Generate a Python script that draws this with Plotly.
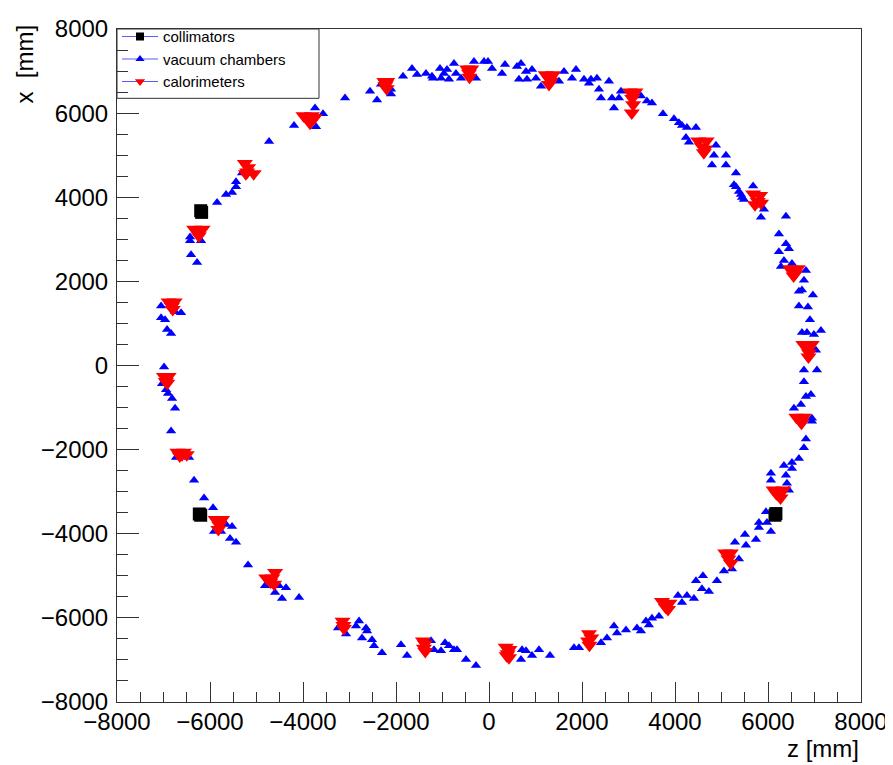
import plotly.graph_objects as go

# ---- data (z, x in mm) ----
vac_z = [-4193, -3741, -3720, -3569, -3096, -2559, -2408, -2322, -2107, -2107, -1849, -1656, -1548, -1355, -1226, -1204,
         -1054, -1032, -968, -903, -860, -753, -710, -602, -323, -280, -108, -22, 65, 280, 344, 602, 688, 645, 796, 817,
         925, 1011, 1118, 1505, 1613, 1785, 1871, 2043, 2193, 2150, 2322, 2365, 2408, 2580, 2645, 2688, 2838, 2795,
         3268, 3397, 3505, 3741, 3978, 4085, 4150, 4257, 4451, 4236, 4300, 4881, 4838, 4795, 5096, 5096, 5311, 5268,
         5311, 5375, 5418, 5440, 5483, 5680, 5848, 5913, 6386, 6235, 6386, 6450, 6235, 6343, 6278, 6515, 6816, 6773,
         6665, 6730, 6966, 6665, 6859, 6902, 6730, 6837, 6988, 7138, 7031, 6773, 7052, 6773, 6816, 6923, 6558, 6708,
         6945, 6945, 6816, 6773, 6665, 6515, 6343, 6515, 6063, 6386, 6063, 6407, 6450, 5956, 5805, 5805, 5977, 6063,
         5504, 5741, 5289, 5526, 5375, 5053, 5225, 4902, 4601, 4451, 4580, 4730, 4257, 4408, 4064, 4150, 3655, 3505,
         3376, 3440, 3182, 3268, 2946, 2688, 2752, 2537, 2408, 1935, 1828, 1312, 1075, 925, 796, 688, 710, -280, -495,
         -688, -753, -860, -946, -1032, -1183, -1247, -1763, -1892, -2301, -2473, -2516, -2731, -2623, -2645, -2795,
         -2860, -3075, -3247, -4085, -4451, -4601, -4365, -4515, -4623, -4816, -5182, -5440, -5569, -5762, -5913, -5526,
         -5655, -5934, -6128, -6343, -6730, -6450, -6751, -6816, -6902, -6945, -7031, -6837, -6988, -6837, -6923, -6966,
         -7052, -6751, -6622, -7052, -6278, -6407, -6429, -6429, -6192, -5848, -5655, -5526, -5440, -5440, -5311, -5160,
         -4730]
vac_x = [5703, 6124, 5679, 5984, 6359, 6522, 6312, 6686, 6569, 6452, 6874, 7061, 6921, 6944, 6874, 6827,
         7061, 6827, 6944, 7038, 6804, 7178, 6944, 6827, 7225, 6827, 7225, 7225, 7061, 6944, 7155, 7108, 7178, 6804, 6991, 6804,
         7038, 6827, 6640, 6757, 6991, 6827, 7038, 6804, 6804, 6710, 6827, 6569, 6359, 6757, 6359, 6124, 6522, 6359,
         6405, 6288, 6241, 5984, 5867, 5773, 5703, 5656, 5656, 5422, 5305, 5234, 5000, 4766, 5000, 4766, 4579, 4298,
         4251, 4134, 4063, 3993, 3946, 4270, 3525, 3712, 3548, 3127, 2892, 2775, 2705, 2494, 2354, 2424, 2260, 2026,
         1768, 1792, 1675, 1417, 1393, 1089, 785, 785, 738, 831, 363, -105, -105, -386, -738, -691, -1019, -925,
         -1253, -1323, -1745, -1956, -2213, -2307, -2377, -2447, -2564, -2611, -2728, -2799, -2963, -3478, -3735, -3853, -3735, -3946,
         -4017, -4134, -4204, -4274, -4602, -4883, -4837, -5116, -5000, -5116, -5305, -5375, -5469, -5539, -5469, -5633, -5960, -6007,
         -6077, -6171, -6241, -6312, -6288, -6195, -6359, -6476, -6593, -6710, -6710, -6897, -6757, -6897, -6780, -6991, -6757, -7131, -6991,
         -6757, -6757, -6663, -6593, -6780, -6757, -6546, -6897, -6640, -6827, -6663, -6522, -6476, -6312, -6241, -6077,
         -6195, -6382, -6241, -5515, -5539, -5398, -5281, -5234, -5234, -5234, -4743, -4204, -4110, -3946, -3946, -3829,
         -3782, -3384, -3150, -2728, -2190, -2190, -1019, -785, -667, -574, -433, -1557, -35, 761, 855, 1089,
         1136, 1276, 1253, 1417, 2447, 2635, 2963, 3056, 2963, 3876, 4063, 4110, 4251, 4368, 4579, 4579,
         5328]

cal_z = [-2250, -2190, -2230, -2200, -2215,
         -470, -380, -430, -420,
         1220, 1380, 1300, 1290, 1330,
         3030, 3150, 3080, 3100, 3070,
         4500, 4680, 4580, 4650, 4620,
         5680, 5830, 5780, 5720, 5850,
         6470, 6640, 6580, 6550, 6520,
         6760, 6940, 6850, 6880, 6870,
         6610, 6770, 6700, 6720,
         6120, 6330, 6220, 6270, 6180,
         5080, 5200, 5150, 5200,
         3720, 3880, 3800, 3850,
         2150, 2200, 2130, 2160,
         360, 440, 400, 430, 380,
         -1420, -1380, -1400, -1370,
         -3150, -3130, -3120,
         -4790, -4660, -4600, -4700, -4620,
         -5880, -5740, -5800, -5820,
         -6700, -6560, -6650, -6500, -6600,
         -6990, -6890, -6950, -6920,
         -6890, -6760, -6820, -6800,
         -6340, -6160, -6250, -6240,
         -5250, -5180, -5200, -5060, -5230,
         -3990, -3810, -3900, -3750, -3850]
cal_x = [6750, 6750, 6650, 6580, 6700,
         7050, 7050, 6950, 6850,
         6910, 6910, 6800, 6680, 6760,
         6500, 6500, 6350, 6200, 6000,
         5340, 5340, 5200, 5150, 5060,
         4080, 4040, 3900, 3820, 3860,
         2300, 2300, 2180, 2130, 2230,
         500, 500, 400, 300, 200,
         -1230, -1230, -1330, -1370,
         -2960, -2960, -3080, -3150, -3050,
         -4460, -4460, -4600, -4700,
         -5610, -5650, -5750, -5800,
         -6380, -6480, -6550, -6650,
         -6700, -6750, -6850, -6950, -6900,
         -6550, -6620, -6720, -6800,
         -6080, -6180, -6250,
         -5050, -5050, -4920, -5150, -5200,
         -3660, -3660, -3800, -3900,
         -2060, -2060, -2150, -2120, -2120,
         -260, -260, -380, -420,
         1510, 1510, 1400, 1330,
         3240, 3240, 3150, 3080,
         4800, 4700, 4600, 4560, 4560,
         5940, 5940, 5850, 5890, 5760]

col_z = [-6200, -6180, -6200, -6230, 6150, 6170]
col_x = [3680, 3640, -3560, -3530, -3560, -3520]

tick_vals = [-8000, -6000, -4000, -2000, 0, 2000, 4000, 6000, 8000]
tick_text = ["\u22128000", "\u22126000", "\u22124000", "\u22122000", "0", "2000", "4000", "6000", "8000"]

legend_names = ["collimators", "vacuum chambers", "calorimeters"]

FONT = "Liberation Sans, Arial, Helvetica, sans-serif"
LEG_LINE = "#5a5aff"
FRAME = "#333333"

fig = go.Figure()

fig.add_trace(go.Scatter(x=vac_z, y=vac_x, mode="markers", showlegend=False,
                         marker=dict(symbol="triangle-up", size=9, color="#0000ff")))
fig.add_trace(go.Scatter(x=cal_z, y=cal_x, mode="markers", showlegend=False,
                         marker=dict(symbol="triangle-down", size=14, color="#ff0000")))
fig.add_trace(go.Scatter(x=col_z, y=col_x, mode="markers", showlegend=False,
                         marker=dict(symbol="square", size=13, color="#000000")))

# legend entries
fig.add_trace(go.Scatter(x=[None], y=[None], mode="lines+markers", name=legend_names[0],
                         line=dict(color=LEG_LINE, width=1),
                         marker=dict(symbol="square", size=8, color="#000000")))
fig.add_trace(go.Scatter(x=[None], y=[None], mode="lines+markers", name=legend_names[1],
                         line=dict(color=LEG_LINE, width=1),
                         marker=dict(symbol="triangle-up", size=8, color="#0000ff")))
fig.add_trace(go.Scatter(x=[None], y=[None], mode="lines+markers", name=legend_names[2],
                         line=dict(color=LEG_LINE, width=1),
                         marker=dict(symbol="triangle-down", size=9, color="#ff0000")))

axis_common = dict(
    range=[-8000, 8000], showgrid=False, zeroline=False, automargin=False,
    showline=True, linecolor=FRAME, linewidth=1, mirror=True,
    ticks="inside", tickcolor=FRAME, tickwidth=1,
    tickvals=tick_vals, ticktext=tick_text,
    tickfont=dict(family=FONT, size=24, color="#000000"),
    minor=dict(ticks="inside", dtick=500, tickcolor=FRAME, tickwidth=1, showgrid=False),
)

# the page body adds an 8 px margin, so the figure is 8 px smaller on the
# top/left side to keep the frame where the reference has it
fig.update_layout(
    width=885, height=757,
    margin=dict(l=109, r=32, t=14, b=63),
    paper_bgcolor="white", plot_bgcolor="white",
    font=dict(family=FONT, color="#000000"),
    xaxis=dict(**axis_common, ticklen=20, ticklabelstandoff=-2),
    yaxis=dict(**axis_common, ticklen=22, ticklabelstandoff=3),
    legend=dict(x=0, y=1.013, xanchor="left", yanchor="top",
                bgcolor="rgba(0,0,0,0)", borderwidth=0,
                font=dict(family=FONT, size=15, color="#000000"),
                itemwidth=36, tracegroupgap=0),
    shapes=[
        dict(type="rect", xref="paper", yref="paper", x0=0, x1=0.2715, y0=0.897, y1=1.0,
             line=dict(color=FRAME, width=1), fillcolor="white", layer="below"),
    ],
    annotations=[
        dict(text="z [mm]", xref="paper", yref="paper", x=1.0, y=-0.069,
             xanchor="right", yanchor="middle", showarrow=False,
             font=dict(family=FONT, size=24, color="#000000")),
        dict(text="x  [mm]", xref="paper", yref="paper", x=-0.124, y=1.01,
             xanchor="center", yanchor="top", textangle=-90, showarrow=False,
             font=dict(family=FONT, size=24, color="#000000")),
    ],
)
fig.update_xaxes(minor_ticklen=10)
fig.update_yaxes(minor_ticklen=11)

fig.write_html("out.html")
